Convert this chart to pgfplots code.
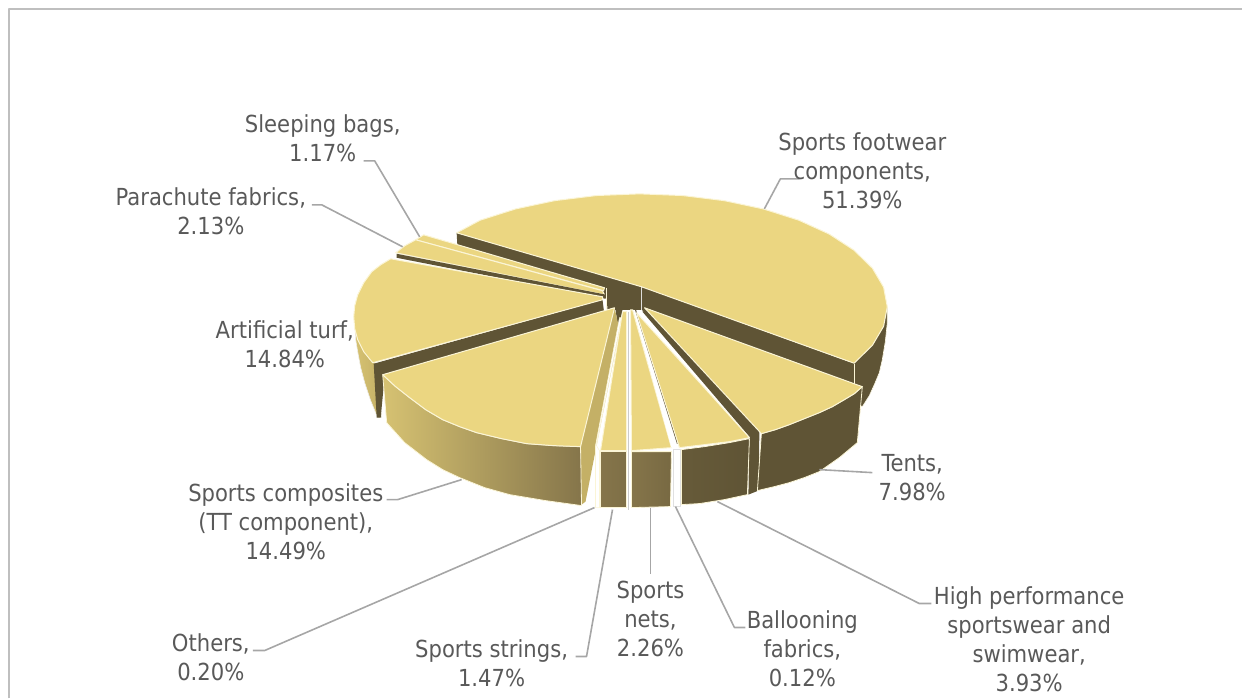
\documentclass[border=0pt]{standalone}
\usepackage{fontspec}
\setmainfont{DejaVu Sans Condensed}
\usepackage{pgfplots}
\pgfplotsset{compat=1.18}
\definecolor{topc}{HTML}{EBD681}
\definecolor{edge}{HTML}{FBF5D6}
\definecolor{darkc}{HTML}{5F5435}
\definecolor{txt}{HTML}{595959}
\definecolor{lead}{HTML}{A6A6A6}
\definecolor{wallL}{HTML}{D6C272}
\definecolor{wallR}{HTML}{85754A}
\definecolor{tanc}{HTML}{C4B066}
\begin{document}
\begin{tikzpicture}
\begin{axis}[
  at={(0pt,0pt)},anchor=south west,
  width=1243pt,height=699pt,scale only axis,
  xmin=0,xmax=1243,ymin=0,ymax=699,y dir=reverse,
  hide axis,no markers,clip=false,
  every axis plot/.append style={line join=round},
]
% frame
\addplot[draw=white,line width=0pt] coordinates {(0,0)(1243,699)};
\addplot[draw=black!25,line width=2pt] coordinates {(9,699)(9,9)(1243,9)};
% footwear outer wall
\addplot[fill=darkc,draw=edge!60,line width=.6pt] coordinates {(888,307)(888,323)(886,342)(883,360)(880,373)(875,385)(870,396)(863,407)(850,400)(850,360)} -- cycle;
% dark core: cut faces and hub
\addplot[fill=darkc,draw=none] coordinates {(457,233)(642,287)(855,364)(855,384)(760,350)(645,312)(642,310)(623,310)(619,330)(616,310)(608,310)(607,296)(458,250)} -- cycle;
\addplot[draw=edge!50!black!25,line width=1pt] coordinates {(642,287)(642,310)};
\addplot[draw=edge,line width=1pt] coordinates {(855,364)(855,385)};
% sleeping bags
\addplot[fill=topc,draw=edge,line width=1pt] coordinates {(424,235)(605,288)(604,291)(416,240)} -- cycle;
% parachute
\addplot[fill=topc,draw=edge,line width=1pt] coordinates {(416,240)(603,291)(605,295)(396,253)(405,246)} -- cycle;
\addplot[fill=darkc,draw=none] coordinates {(397,254)(607,295)(606,299)(397,258)} -- cycle;
\addplot[draw=edge,line width=1.5pt] coordinates {(607,288)(607,309)};
% artificial turf wall + top
\addplot[left color=wallL,right color=tanc,draw=edge!70!black!20,line width=.6pt] coordinates {(355,325)(356,340)(358,352)(361,368)(365,383)(371,401)(378,418)(382,418)(376,365)} -- cycle;
\addplot[fill=darkc,draw=none] coordinates {(374,364)(603,300)(605,316)(385,376)(381,418)(377,418)} -- cycle;
\addplot[fill=topc,draw=edge,line width=1pt] coordinates {(391,259)(381,265)(372,272)(364,283)(358,295)(355,306)(354,317)(355,329)(358,340)(364,352)(373,363)(603,300)(603,297)} -- cycle;
% composites cut face, wall, top
\addplot[fill=tanc,draw=none] coordinates {(581,447)(582,505)(586,502)(597,446)(620,330)(615,308)} -- cycle;
\addplot[left color=wallL,right color=wallR,draw=edge,line width=.8pt] coordinates {(383,375)(387,423)(405,443)(427,460)(443,470)(460,478)(485,488)(510,495)(546,501)(582,506)(581,447)(554,446)(527,444)(502,439)(477,433)(460,427)(443,420)(426,410)(410,398)(396,387)} -- cycle;
\addplot[fill=topc,draw=edge,line width=1pt] coordinates {(383,375)(396,387)(410,398)(426,410)(443,420)(460,427)(477,433)(502,439)(527,444)(554,446)(581,447)(615,308)} -- cycle;
% others
\addplot[fill=white,draw=edge,line width=.6pt] coordinates {(597,446)(600,451)(600,508)(596,508)(596,446)(620,318)(622,318)} -- cycle;
% strings
\addplot[left color=wallR,right color=wallR!95!black,draw=edge,line width=.8pt] coordinates {(601,452)(627,452)(627,508)(601,508)} -- cycle;
\addplot[fill=topc,draw=edge,line width=1pt] coordinates {(601,451)(627,451)(627,312)(623,312)} -- cycle;
% separator
\addplot[draw=black!20,line width=1.4pt] coordinates {(629,312)(629,510)};
% nets
\addplot[left color=wallR,right color=wallR!90!black,draw=edge,line width=.8pt] coordinates {(632,452)(672,452)(671,507)(632,508)} -- cycle;
\addplot[fill=topc,draw=edge,line width=1pt] coordinates {(632,451)(672,448)(633,310)(631,310)} -- cycle;
% ballooning
\addplot[fill=white,draw=black!12,line width=.8pt] coordinates {(674,450)(681,450)(681,507)(674,507)} -- cycle;
\addplot[fill=white,draw=none] coordinates {(672,448)(680,447)(638,313)(634,310)} -- cycle;
\addplot[draw=darkc,line width=1pt] coordinates {(636,310)(678,444)};
% high performance cut band
\addplot[fill=darkc,draw=none] coordinates {(643,312)(650,308)(760,432)(759,491)(749,495)(750,437)} -- cycle;
\addplot[left color=darkc!80!wallR,right color=darkc,draw=edge,line width=.8pt] coordinates {(682,450)(705,447)(730,443)(750,439)(748,495)(725,500)(700,504)(682,505)} -- cycle;
\addplot[fill=topc,draw=edge,line width=1pt] coordinates {(680,448)(705,445)(730,442)(750,438)(637,313)} -- cycle;
% tents
\addplot[fill=darkc,draw=edge,line width=.8pt] coordinates {(762,434)(776,430)(790,425)(805,419)(820,413)(833,407)(845,400)(855,394)(863,387)(858,443)(840,458)(820,472)(805,478)(790,483)(775,487)(758,491)} -- cycle;
\addplot[fill=topc,draw=edge,line width=1pt] coordinates {(645,308)(863,387)(855,394)(845,400)(833,407)(820,413)(805,419)(790,425)(776,430)(762,434)} -- cycle;
% footwear top
\addplot[fill=topc,draw=edge,line width=1pt] coordinates {(457,233)(480.5,220.4)(516,209.1)(555.2,200.8)(596.9,195.7)(640,194)(683.1,195.7)(724.8,200.8)(764,209.1)(799.5,220.4)(830,234.3)(854.8,250.5)(873.1,268.4)(884.3,287.4)(888,307)(884.3,326.6)(873.1,345.6)(854.8,363.5)(642,287)} -- cycle;
% leaders
\addplot[draw=lead,line width=1.6pt] coordinates {(765,209)(781,179)(800,179)};
\addplot[draw=lead,line width=1.6pt] coordinates {(420,237)(375,161)(364,161)};
\addplot[draw=lead,line width=1.6pt] coordinates {(403,247)(322,205)(312,205)};
\addplot[draw=lead,line width=1.6pt] coordinates {(820,470)(873,473)};
\addplot[draw=lead,line width=1.6pt] coordinates {(718,502)(920,604)(932,604)};
\addplot[draw=lead,line width=1.6pt] coordinates {(676,507)(735,628)(746,628)};
\addplot[draw=lead,line width=1.6pt] coordinates {(651,508)(651,574)};
\addplot[draw=lead,line width=1.6pt] coordinates {(613,510)(587,657)(576,657)};
\addplot[draw=lead,line width=1.6pt] coordinates {(595,508)(265,651)(253,651)};
\addplot[draw=lead,line width=1.6pt] coordinates {(462,480)(398,500)(387,500)};
% labels
\newcommand{\lab}[3]{\node[text=txt,font=\fontsize{23.5}{29}\selectfont,align=center,anchor=center,inner sep=0pt] at (axis cs:#1,#2) {#3};}
\lab{863}{171}{Sports footwear\\components,\\51.39\%}
\lab{323}{138}{Sleeping bags,\\1.17\%}
\lab{211}{211}{Parachute fabrics,\\2.13\%}
\lab{285}{345}{Artificial turf,\\14.84\%}
\lab{913}{478}{Tents,\\7.98\%}
\lab{1030}{640}{High performance\\sportswear and\\swimwear,\\3.93\%}
\lab{803}{649}{Ballooning\\fabrics,\\0.12\%}
\lab{651}{619}{Sports\\nets,\\2.26\%}
\lab{492}{664}{Sports strings,\\1.47\%}
\lab{211}{658}{Others,\\0.20\%}
\lab{286}{522}{Sports composites\\(TT component),\\14.49\%}
\end{axis}
\end{tikzpicture}
\end{document}
